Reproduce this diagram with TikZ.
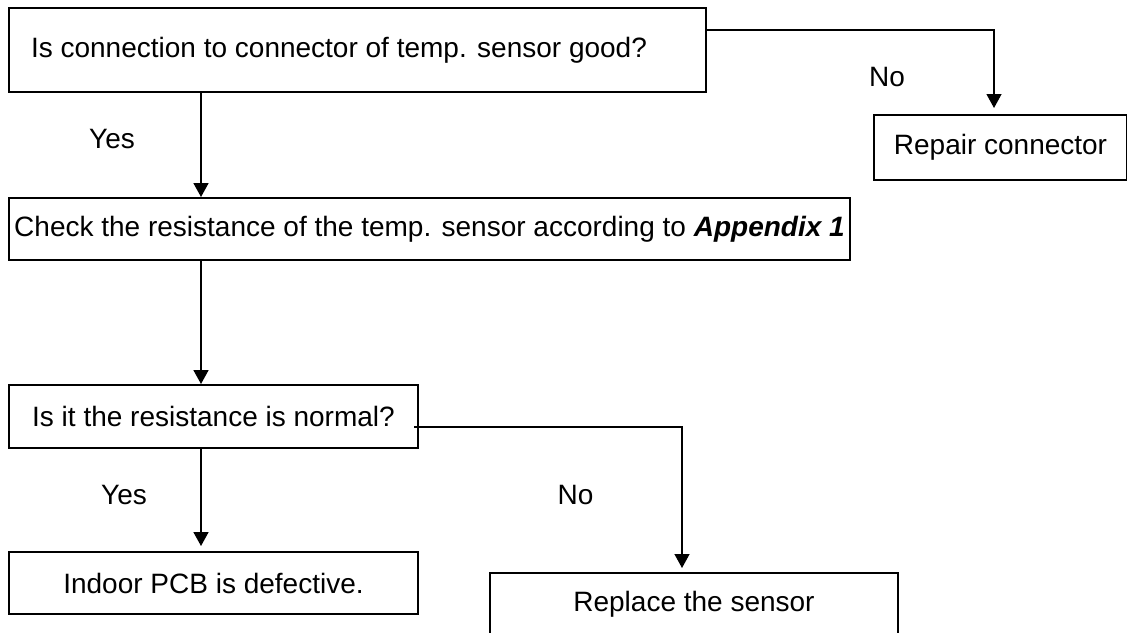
\documentclass[tikz,border=0pt]{standalone}
\usepackage{fontspec}
\setmainfont{Liberation Sans}
\usetikzlibrary{arrows.meta}

\tikzset{
  box/.style={draw, line width=2pt, inner sep=0pt, anchor=north west,
              font=\fontsize{28}{33}\selectfont},
  flow/.style={-{Triangle[length=14pt,width=15pt]}, line width=1.7pt},
  side/.style={flow, line width=1.3pt},
  answer/.style={inner sep=0pt, font=\fontsize{28}{33}\selectfont}
}

\begin{document}
\begin{tikzpicture}[x=1pt,y=-1pt]
	\useasboundingbox (0,0) rectangle (1127,632);
	\coordinate (spine) at (201,0);
	\node[box, minimum width=697pt, minimum height=84pt] (conn)    at (8,7)     {Is connection to connector of temp. sensor good?\hspace*{37pt}};
	\node[box, minimum width=253pt, minimum height=65pt] (repair)  at (873,114) {Repair connector};
	\node[box, minimum width=841pt, minimum height=62pt] (check)   at (8,197)   {Check the resistance of the temp. sensor according to \textbf{\textit{Appendix 1}}};
	\node[box, minimum width=409pt, minimum height=63pt] (normal)  at (8,384)   {Is it the resistance is normal?};
	\node[box, minimum width=409pt, minimum height=62pt] (pcb)     at (8,551)   {Indoor PCB is defective.};
	\node[box, minimum width=408pt, minimum height=62pt] (replace) at (489,572) {Replace the sensor};
	\node[answer] (yes1) at (112,139.5) {Yes};
	\node[answer] (no1)  at (887,77)    {No};
	\node[answer] (yes2) at (124,494.5) {Yes};
	\node[answer] (no2)  at (575.5,494.5) {No};
	\draw[flow] (conn.south -| spine) -- (check.north -| spine);
	\draw[flow] (check.south -| spine) -- (normal.north -| spine);
	\draw[flow, shorten >=5pt] (normal.south -| spine) -- (pcb.north -| spine);
	\draw[side, shorten >=6pt] ([yshift=20pt]conn.east) -| ([xshift=-6.5pt]repair.north);
	\draw[side, shorten >=4pt] ([shift={(-5pt,-10.5pt)}]normal.east) -| ([xshift=-12pt]replace.north);
\end{tikzpicture}
\end{document}
